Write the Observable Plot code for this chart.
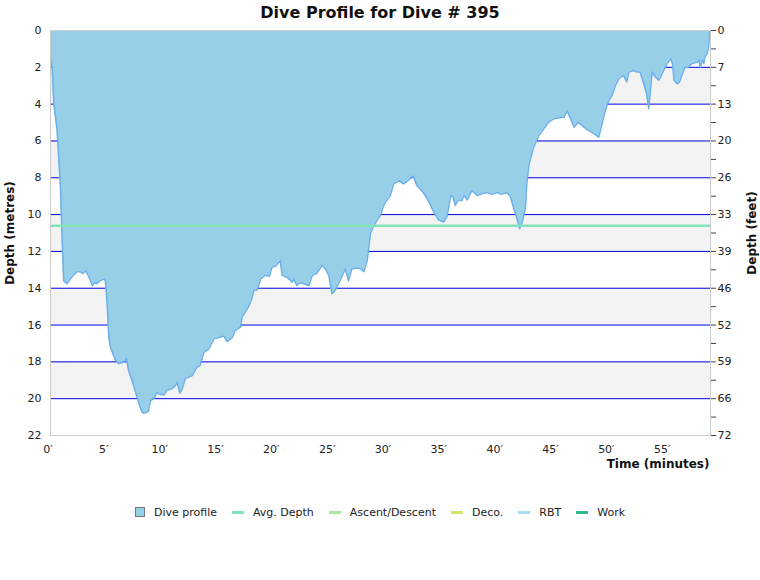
<!DOCTYPE html>
<html>
<head>
<meta charset="utf-8">
<script src="https://cdn.jsdelivr.net/npm/d3@7"></script>
<script src="https://cdn.jsdelivr.net/npm/@observablehq/plot@0.6"></script>
<style>
  body { margin: 0; background: #fff; font-family: "DejaVu Sans", Verdana, sans-serif; }
  #wrap { width: 760px; }
  #title { height: 24px; line-height: 25px; text-align: center; font-weight: bold; font-size: 16px; color: #111; }
  #legend { display: flex; justify-content: center; align-items: center; margin-top: 25px; height: 14px; font-size: 11px; color: #222; padding-left: 0px; }
  .item { display: flex; align-items: center; margin-right: 15px; }
  .item:last-child { margin-right: 0; }
  .sq { width: 8px; height: 8px; border: 1px solid #777; margin-right: 9px; }
  .ln { width: 12px; height: 3px; margin-right: 9px; }
</style>
</head>
<body>
<div id="wrap">
  <div id="title">Dive Profile for Dive # 395</div>
  <div id="chart"></div>
  <div id="legend"></div>
</div>
<script>
// Time in minutes, depth in metres
const times = [0,0.15,0.3,0.59,0.74,0.89,0.98,1.08,1.18,1.48,1.77,2.07,2.36,2.66,2.91,3.15,3.45,3.74,3.94,4.14,4.43,4.78,4.92,5.07,5.22,5.37,5.61,5.81,6.11,6.35,6.57,6.80,6.99,7.29,7.58,7.88,8.17,8.37,8.76,8.96,9.26,9.55,9.75,10.14,10.44,10.89,11.19,11.33,11.58,11.77,12.08,12.70,13.10,13.39,13.73,14.18,14.62,14.92,15.52,15.82,16.25,16.54,17.04,17.14,17.73,18.02,18.22,18.51,18.81,19.20,19.60,19.84,20.19,20.58,20.74,21.17,21.64,21.76,22.06,22.35,22.65,23.14,23.44,23.83,24.32,24.62,24.92,25.21,25.51,26.00,26.39,26.69,26.98,27.48,27.77,28.07,28.36,28.66,28.95,29.25,29.54,29.84,30.13,30.43,30.73,31.22,31.61,32.01,32.50,32.79,33.38,33.88,34.32,34.76,35.22,35.51,35.85,36.04,36.24,36.54,36.83,37.03,37.32,37.72,38.21,38.51,39.10,39.49,39.98,40.38,40.87,41.16,41.46,41.76,42.01,42.25,42.54,42.64,42.84,43.13,43.23,43.73,44.17,44.61,45.06,45.40,45.99,46.26,46.58,46.88,47.27,47.76,48.16,48.65,49.09,49.39,49.68,49.99,50.28,50.58,50.91,51.31,51.60,51.80,52.19,52.49,52.79,53.08,53.38,53.57,53.67,53.87,54.16,54.46,54.66,54.91,55.21,55.54,55.69,55.84,56.13,56.33,56.53,56.82,57.12,57.41,57.91,58.05,58.20,58.35,58.50,58.60,58.79,58.94,59.03];
const depths = [1.45,2.0,4.0,5.4,7.0,8.5,10.1,12.0,13.6,13.76,13.5,13.3,13.1,13.1,13.2,13.05,13.4,13.85,13.7,13.75,13.6,13.5,13.6,14.8,16.65,17.2,17.6,17.9,18.1,18.05,18.0,17.8,18.47,19.0,19.55,20.2,20.7,20.8,20.7,20.1,20.0,19.65,19.75,19.8,19.55,19.45,19.3,19.1,19.7,19.5,18.9,18.75,18.3,18.2,17.5,17.3,16.75,16.7,16.6,16.9,16.7,16.3,16.1,15.6,15.0,14.6,14.1,14.1,13.5,13.3,13.35,12.85,12.8,12.5,13.3,13.4,13.67,13.5,13.85,13.7,13.76,13.85,13.3,13.2,12.76,12.95,13.3,14.3,14.1,13.5,12.95,13.6,12.95,12.9,12.95,13.1,12.5,11.0,10.6,10.3,10.05,9.5,9.2,8.96,8.33,8.15,8.33,8.15,7.9,8.4,8.8,9.3,9.87,10.3,10.4,10.1,8.96,9.05,9.5,9.2,9.25,8.96,9.2,8.7,8.96,8.9,8.8,8.9,8.8,8.9,8.8,9.0,9.6,10.2,10.77,10.4,9.6,8.4,7.3,6.65,6.4,5.7,5.34,4.98,4.8,4.75,4.71,4.35,4.8,5.25,4.98,5.25,5.43,5.6,5.8,5.07,4.35,3.8,3.53,3.0,2.6,2.44,2.8,2.26,2.17,2.26,2.26,2.8,3.44,4.25,3.6,2.26,2.53,2.7,2.5,2.17,1.8,1.54,1.8,2.7,2.9,2.8,2.44,2.0,2.0,1.8,1.72,1.6,2.0,1.6,1.8,1.45,1.27,0.9,0];
const avgDepth = 10.6;
const timeDomain = [0, 59.1];
const depthDomain = [0, 22];
const timeTicks = [0,5,10,15,20,25,30,35,40,45,50,55];
const metreTicks = [0,2,4,6,8,10,12,14,16,18,20,22];
const minorTicks = [1,3,5,7,9,11,13,15,17,19,21];
const feetLabels = ["0","7","13","20","26","33","39","46","52","59","66","72"];
const gridLines = [2,4,6,8,10,12,14,16,18,20];
const bandStarts = [2,6,10,14,18];
const legendItems = [
  {name: "Dive profile", color: "#97cfe9", type: "square"},
  {name: "Avg. Depth", color: "#85e3bb", type: "line"},
  {name: "Ascent/Descent", color: "#a3ea9c", type: "line"},
  {name: "Deco.", color: "#d7e36f", type: "line"},
  {name: "RBT", color: "#a8dcf5", type: "line"},
  {name: "Work", color: "#33b98b", type: "line"}
];

const profile = times.map((t, i) => ({t, d: depths[i]}));
const font = "DejaVu Sans, Verdana, sans-serif";

const chart = Plot.plot({
  width: 760,
  height: 456,
  marginTop: 6,
  marginLeft: 50,
  marginRight: 50,
  marginBottom: 45,
  style: {fontFamily: font, fontSize: "11px", color: "#222", background: "#fff"},
  x: {domain: timeDomain, axis: null},
  y: {domain: depthDomain, reverse: true, axis: null},
  marks: [
    Plot.rect(bandStarts, {x1: timeDomain[0], x2: timeDomain[1], y1: d => d, y2: d => d + 2, fill: "#f3f3f3"}),
    Plot.ruleY(gridLines, {stroke: "#0000e0", strokeWidth: 1}),
    Plot.areaY(profile, {x: "t", y1: 0, y2: "d", fill: "#97cfe9"}),
    Plot.line(profile, {x: "t", y: "d", stroke: "#6cb0ea", strokeWidth: 1.5}),
    Plot.ruleY([avgDepth], {stroke: "#85e3bb", strokeWidth: 2.5}),
    Plot.frame({stroke: "#cccccc"}),
    Plot.axisY({anchor: "left", ticks: metreTicks, tickSize: 0, tickPadding: 9, label: null, fontSize: 11}),
    Plot.axisY({anchor: "right", ticks: metreTicks, tickSize: 5, tickPadding: 2, label: null, fontSize: 11,
      tickFormat: d => feetLabels[metreTicks.indexOf(d)], stroke: "#444"}),
    Plot.axisY({anchor: "right", ticks: minorTicks, tickSize: 5, tickFormat: () => "", label: null, stroke: "#444"}),
    Plot.axisX({ticks: timeTicks, tickSize: 0, tickPadding: 10, label: null, fontSize: 11, dx: -2.5,
      tickFormat: d => d + "\u2032"}),
    Plot.text(["Depth (metres)"], {text: d => d, frameAnchor: "left", textAnchor: "middle", lineAnchor: "middle", rotate: -90, dx: -40, fontWeight: "bold", fontSize: 12, fill: "#111"}),
    Plot.text(["Depth (feet)"], {text: d => d, frameAnchor: "right", textAnchor: "middle", lineAnchor: "middle", rotate: -90, dx: 42, fontWeight: "bold", fontSize: 12, fill: "#111"}),
    Plot.text(["Time (minutes)"], {text: d => d, frameAnchor: "bottom-right", textAnchor: "end", dx: -1, dy: 32, fontWeight: "bold", fontSize: 12, fill: "#111"})
  ]
});
document.getElementById("chart").appendChild(chart);

const legend = document.getElementById("legend");
for (const it of legendItems) {
  const el = document.createElement("div");
  el.className = "item";
  const sw = document.createElement("span");
  sw.className = it.type === "square" ? "sq" : "ln";
  sw.style.background = it.color;
  const lab = document.createElement("span");
  lab.textContent = it.name;
  el.appendChild(sw);
  el.appendChild(lab);
  legend.appendChild(el);
}
</script>
</body>
</html>
